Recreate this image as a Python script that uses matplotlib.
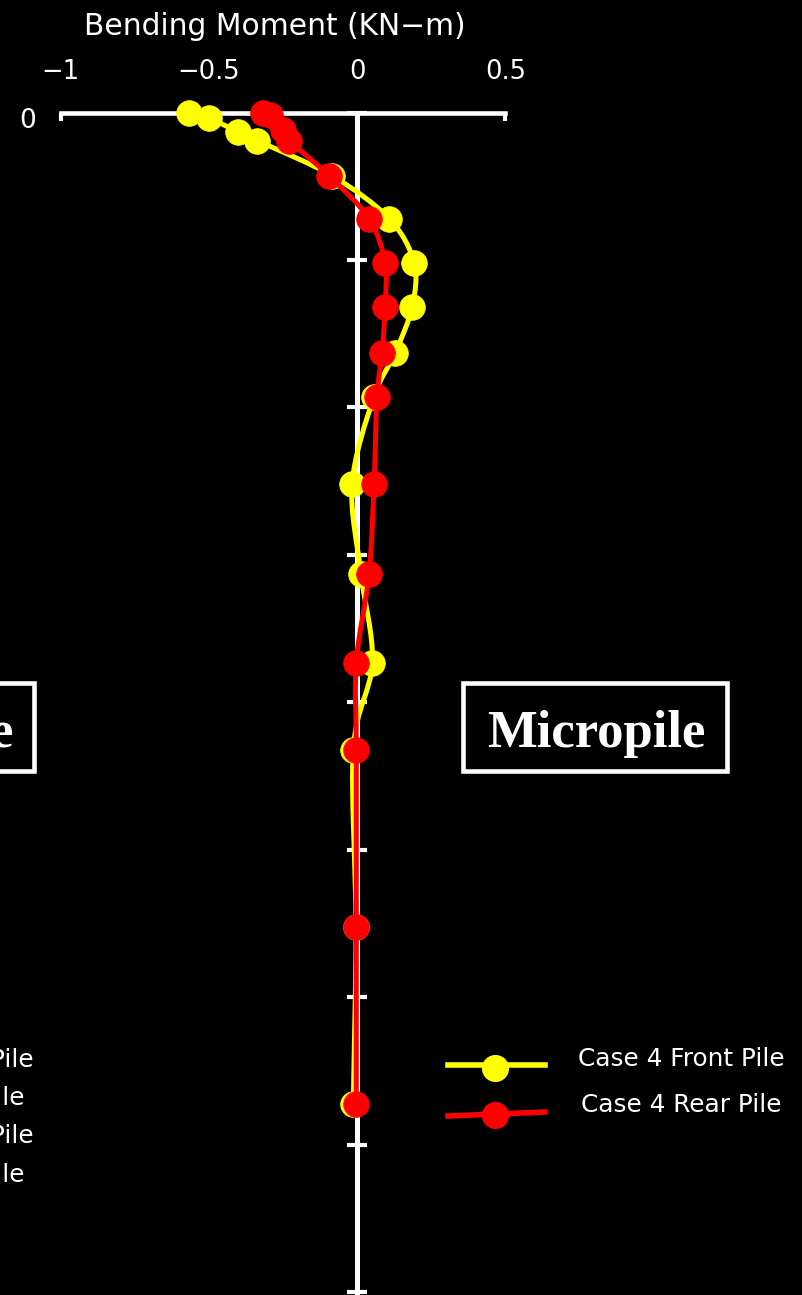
import numpy as np
import matplotlib
matplotlib.use("Agg")
import matplotlib.pyplot as plt
from matplotlib.path import Path
from matplotlib.patches import PathPatch, Rectangle
from matplotlib.lines import Line2D

plt.rcParams['font.family'] = ['DejaVu Sans', 'Noto Sans CJK JP']

# ---- data -------------------------------------------------------------
moment_ticks = [-1, -0.5, 0, 0.5]
moment_tick_labels = ['\u22121', '\u22120.5', '0', '0.5']
depth_ticks = [0, 1, 2, 3, 4, 5, 6, 7, 8]

front_depth = [0.0, 0.04, 0.13, 0.19, 0.43, 0.72, 1.02, 1.32, 1.63, 1.93,
               2.52, 3.13, 3.73, 4.32, 5.52, 6.72]
front_moment = [-0.567, -0.499, -0.401, -0.337, -0.084, 0.108, 0.192, 0.185,
                0.128, 0.056, -0.017, 0.013, 0.051, -0.013, -0.004, -0.013]

rear_depth = [0.0, 0.02, 0.12, 0.19, 0.43, 0.72, 1.02, 1.32, 1.63, 1.93,
              2.52, 3.13, 3.73, 4.32, 5.52, 6.72]
rear_moment = [-0.317, -0.293, -0.250, -0.229, -0.094, 0.040, 0.094, 0.094,
               0.084, 0.067, 0.057, 0.040, -0.003, -0.003, -0.003, -0.003]

series_labels = ['Case 4 Front Pile', 'Case 4 Rear Pile']
other_labels = ['Case 3 Front Pile', 'Case 3 Rear Pile',
                'Case 5 Front Pile', 'Case 5 Rear Pile']

YELLOW = '#ffff00'
RED = '#ff0000'
W, H = 802, 1295


def fx(px):
    return px / W


def fy(py):
    return 1 - py / H


def smooth_path(xs, ys):
    """Smoothed (Catmull-Rom as cubic Bezier) path through the points."""
    p = np.column_stack([xs, ys]).astype(float)
    ext = np.vstack([2 * p[0] - p[1], p, 2 * p[-1] - p[-2]])
    verts = [p[0]]
    codes = [Path.MOVETO]
    for i in range(1, len(ext) - 2):
        p0, p1, p2, p3 = ext[i - 1], ext[i], ext[i + 1], ext[i + 2]
        c1 = p1 + (p2 - p0) / 6.0
        c2 = p2 - (p3 - p1) / 6.0
        verts += [c1, c2, p2]
        codes += [Path.CURVE4] * 3
    return Path(np.array(verts), codes)


fig = plt.figure(figsize=(W / 100, H / 100), dpi=100, facecolor='black')

top_px = 112.5
ax = fig.add_axes([fx(60.5), 0, fx(505.5) - fx(60.5), fy(top_px)])
ax.set_facecolor('black')
ax.set_xlim(-1, 0.5)
ax.set_ylim((H - top_px) / 147.5, 0)

for side in ('right', 'bottom'):
    ax.spines[side].set_visible(False)
ax.spines['top'].set_color('white')
ax.spines['top'].set_linewidth(3.3)
ax.spines['left'].set_position(('data', 0))
ax.spines['left'].set_color('white')
ax.spines['left'].set_linewidth(3.6)

ax.xaxis.set_ticks_position('top')
ax.set_xticks(moment_ticks)
ax.set_xticklabels(moment_tick_labels)
ax.tick_params(axis='x', direction='in', length=6, width=3, colors='white',
               labelsize=18.5, pad=19.5)
ax.set_yticks(depth_ticks)
ax.yaxis.set_ticks_position('left')
ax.tick_params(axis='y', direction='inout', length=15, width=3,
               colors='white', labelleft=False)

# curves
for depth, moment, color, z in ((front_depth, front_moment, YELLOW, 3),
                                (rear_depth, rear_moment, RED, 5)):
    patch = PathPatch(smooth_path(moment, depth), fill=False, edgecolor=color,
                      linewidth=3.6, zorder=z, clip_on=False,
                      capstyle='round', joinstyle='round')
    ax.add_patch(patch)
    ax.plot(moment, depth, linestyle='none', marker='o', markersize=18.5,
            markerfacecolor=color, markeredgecolor=color,
            markeredgewidth=0.5, zorder=z + 1, clip_on=False)

# axis title and depth origin label
fig.text(fx(275), fy(35), 'Bending Moment (KN\u2212m)', color='white',
         fontsize=21.4, ha='center', va='baseline')
fig.text(fx(28), fy(127.5), '0', color='white', fontsize=19,
         ha='center', va='baseline')

# legend
legend_rows = [(YELLOW, 1065, 1065, 1068, 1066.5, series_labels[0]),
               (RED, 1116, 1112, 1115, 1111.5, series_labels[1])]
for color, yl, yr, ym, yb, label in legend_rows:
    fig.add_artist(Line2D([fx(448), fx(545)], [fy(yl), fy(yr)],
                          color=color, linewidth=4, transform=fig.transFigure))
    fig.add_artist(Line2D([fx(495)], [fy(ym)], marker='o', markersize=19.5,
                          color=color, markeredgewidth=0,
                          transform=fig.transFigure))
    fig.text(fx(681), fy(yb), label, color='white', fontsize=17.8,
             ha='center', va='baseline')

# neighbouring legend entries at the left edge
for label, xr, yb in zip(other_labels, [34, 25, 34, 25],
                         [1067, 1105, 1143, 1182.5]):
    fig.text(fx(xr), fy(yb), label, color='white', fontsize=17.8,
             ha='right', va='baseline')

# panel name boxes
fig.add_artist(Rectangle((fx(463), fy(770.5)), fx(727) - fx(463),
                         fy(683) - fy(770.5), transform=fig.transFigure,
                         fill=False, edgecolor='white', linewidth=3.3))
fig.text(fx(596), fy(746.5), 'Micropile', color='white', fontsize=38,
         fontfamily='Liberation Serif', fontweight='bold',
         ha='center', va='baseline')
fig.add_artist(Rectangle((fx(-230), fy(770.5)), fx(34) - fx(-230),
                         fy(683) - fy(770.5), transform=fig.transFigure,
                         fill=False, edgecolor='white', linewidth=3.3))
fig.text(fx(13), fy(746.5), 'Steel Pile', color='white', fontsize=38,
         fontfamily='Liberation Serif', fontweight='bold',
         ha='right', va='baseline')

fig.savefig('out.png', dpi=100, facecolor='black')
